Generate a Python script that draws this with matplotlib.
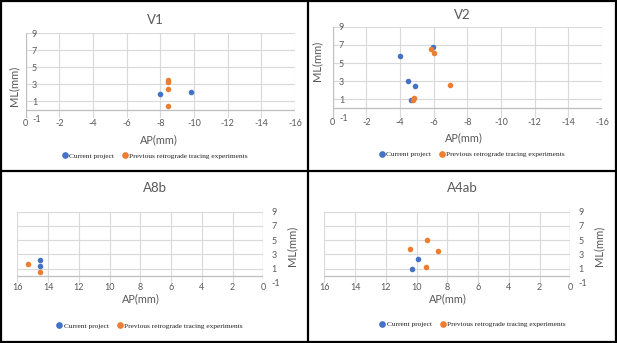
import matplotlib
matplotlib.use("Agg")
import matplotlib.pyplot as plt
from matplotlib.lines import Line2D
from matplotlib import font_manager as fm

# ---------------- data ----------------
v1_current_ap = [-7.95, -9.85]
v1_current_ml = [1.85, 2.15]
v1_prev_ap = [-8.45, -8.45, -8.45, -8.45]
v1_prev_ml = [3.45, 3.3, 2.45, 0.45]

v2_current_ap = [-4.0, -5.95, -4.45, -4.9, -4.65]
v2_current_ml = [5.75, 6.8, 3.0, 2.45, 0.9]
v2_prev_ap = [-5.85, -6.0, -6.95, -4.85, -4.75]
v2_prev_ml = [6.5, 6.05, 2.55, 1.2, 0.9]

a8b_current_ap = [14.5, 14.5]
a8b_current_ml = [2.25, 1.3]
a8b_prev_ap = [15.3, 14.5]
a8b_prev_ml = [1.7, 0.45]

a4ab_current_ap = [9.9, 10.3]
a4ab_current_ml = [2.4, 0.9]
a4ab_prev_ap = [10.45, 9.35, 8.6, 9.4]
a4ab_prev_ml = [3.7, 5.0, 3.45, 1.25]

titles = ["V1", "V2", "A8b", "A4ab"]
x_ticks_neg = [0, -2, -4, -6, -8, -10, -12, -14, -16]
x_ticks_pos = [16, 14, 12, 10, 8, 6, 4, 2, 0]
y_ticks = [-1, 1, 3, 5, 7, 9]
series_names = ["Current project", "Previous retrograde tracing experiments"]

# ---------------- style ----------------
BLUE = "#4472C4"
ORANGE = "#ED7D31"
GRID = "#D9D9D9"
AXISC = "#BFBFBF"
TXT = "#595959"

def has_font(name):
    try:
        fm.findfont(fm.FontProperties(family=name), fallback_to_default=False)
        return True
    except Exception:
        return False

SANS = "Liberation Sans Narrow" if has_font("Liberation Sans Narrow") else "Lato"
SERIF = "Liberation Serif"

W, H = 617, 343
fig = plt.figure(figsize=(W / 100, H / 100), dpi=100)

def fx(px):
    return px / W

def fy(py):
    return 1 - py / H

panels = [
    dict(title=titles[0], rect=(25.7, 33.3, 295.0, 118.3), xlim=(0, -16), xt=x_ticks_neg,
         cur=(v1_current_ap, v1_current_ml), prev=(v1_prev_ap, v1_prev_ml),
         ylab_side="left", title_xy=(155, 20), ap_xy=(159, 139.5), ml_xy=(13.5, 86),
         leg_y=155.7, leg_x=154.5),
    dict(title=titles[1], rect=(332.7, 26.7, 602.0, 117.5), xlim=(0, -16), xt=x_ticks_neg,
         cur=(v2_current_ap, v2_current_ml), prev=(v2_prev_ap, v2_prev_ml),
         ylab_side="left", title_xy=(462, 15), ap_xy=(464, 138), ml_xy=(317, 61),
         leg_y=154, leg_x=471.5),
    dict(title=titles[2], rect=(17.3, 211.7, 263.3, 282.7), xlim=(16, 0), xt=x_ticks_pos,
         cur=(a8b_current_ap, a8b_current_ml), prev=(a8b_prev_ap, a8b_prev_ml),
         ylab_side="right", title_xy=(155, 188), ap_xy=(141, 299), ml_xy=(291.7, 246),
         leg_y=325.7, leg_x=149),
    dict(title=titles[3], rect=(324.3, 211.7, 570.3, 282.7), xlim=(16, 0), xt=x_ticks_pos,
         cur=(a4ab_current_ap, a4ab_current_ml), prev=(a4ab_prev_ap, a4ab_prev_ml),
         ylab_side="right", title_xy=(462, 188), ap_xy=(448, 299), ml_xy=(598.7, 246),
         leg_y=324, leg_x=472),
]

for p in panels:
    x0, y0, x1, y1 = p["rect"]
    ax = fig.add_axes([fx(x0), fy(y1), (x1 - x0) / W, (y1 - y0) / H])
    ax.set_xlim(*p["xlim"])
    ax.set_ylim(-1, 9)
    for s in ax.spines.values():
        s.set_visible(False)
    ax.set_xticks(p["xt"])
    ax.set_xticklabels([str(v) for v in p["xt"]])
    ax.set_yticks(y_ticks)
    ax.set_yticklabels([str(v) for v in y_ticks])
    ax.grid(True, color=GRID, linewidth=0.8, zorder=0)
    ax.yaxis.get_gridlines()[0].set_visible(False)
    ax.set_axisbelow(True)
    ax.axhline(0, color=AXISC, linewidth=0.9, zorder=1)
    ax.axvline(0, color=AXISC, linewidth=0.9, zorder=1)
    ax.tick_params(axis="x", length=0, pad=0.5, labelsize=6.5, labelcolor=TXT)
    if p["ylab_side"] == "left":
        ax.tick_params(axis="y", length=0, pad=-4.5, labelsize=6.5, labelcolor=TXT)
        for lbl in ax.get_yticklabels():
            lbl.set_horizontalalignment("left")
    else:
        ax.yaxis.tick_right()
        ax.tick_params(axis="y", length=0, pad=6.0, labelsize=6.5, labelcolor=TXT)
    for lbl in ax.get_xticklabels() + ax.get_yticklabels():
        lbl.set_fontfamily(SANS)
    ax.scatter(p["cur"][0], p["cur"][1], s=16, color=BLUE, zorder=3, linewidths=0)
    ax.scatter(p["prev"][0], p["prev"][1], s=16, color=ORANGE, zorder=3, linewidths=0)

    fig.text(fx(p["title_xy"][0]), fy(p["title_xy"][1]), p["title"], ha="center", va="center",
             fontsize=9.5, color=TXT, family=SANS)
    fig.text(fx(p["ap_xy"][0]), fy(p["ap_xy"][1]), "AP(mm)", ha="center", va="center",
             fontsize=7.8, color=TXT, family=SANS)
    fig.text(fx(p["ml_xy"][0]), fy(p["ml_xy"][1]), "ML(mm)", ha="center", va="center",
             fontsize=8, color=TXT, family=SANS, rotation=90)

    handles = [Line2D([], [], marker="o", linestyle="none", color=BLUE, markersize=3.8),
               Line2D([], [], marker="o", linestyle="none", color=ORANGE, markersize=3.8)]
    fig.legend(handles, series_names, loc="center", ncol=2,
               bbox_to_anchor=(fx(p["leg_x"]), fy(p["leg_y"])), frameon=False,
               prop=dict(family=SERIF, size=5.3), handletextpad=0.1, columnspacing=1.0,
               handlelength=1.0, labelcolor="#222222")

# panel borders
lw = 1.6
for (xa, ya, xb, yb) in [(1, 1, 615.5, 1), (1, 341.5, 615.5, 341.5), (1, 1, 1, 341.5),
                         (615.5, 1, 615.5, 341.5), (308, 1, 308, 341.5), (1, 171.3, 615.5, 171.3)]:
    fig.add_artist(Line2D([fx(xa), fx(xb)], [fy(ya), fy(yb)], color="black", linewidth=lw))

fig.savefig("out.png", dpi=100)
